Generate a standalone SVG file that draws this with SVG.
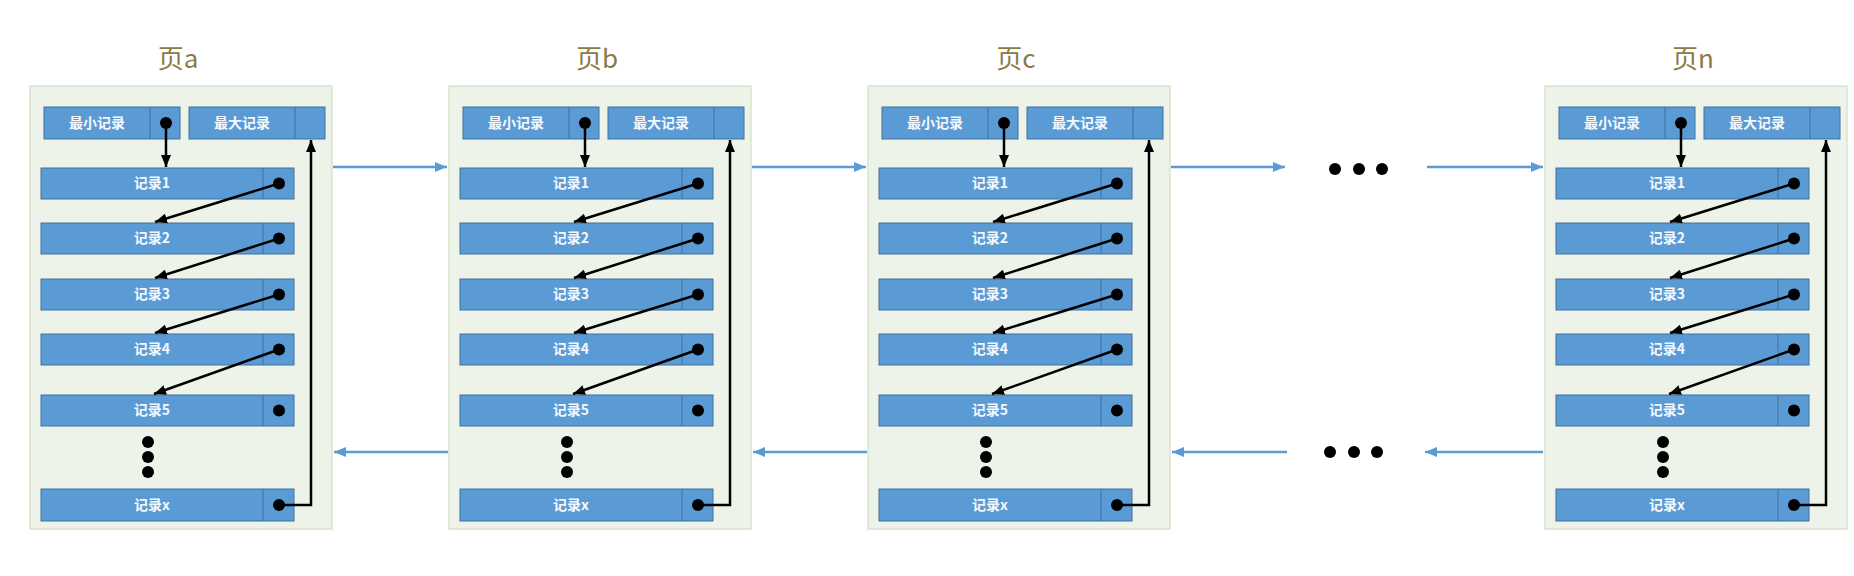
<svg xmlns="http://www.w3.org/2000/svg" width="1854" height="576" viewBox="0 0 1854 576">
<style>
.pg{fill:#eef3e9;stroke:#d8e5cc;stroke-width:1.5}
.bx{fill:#5b9bd5;stroke:#41719c;stroke-width:1}
.dv{stroke:#41719c;stroke-width:1}
.t{font-family:"Noto Sans CJK SC","Liberation Sans",sans-serif;font-size:14px;font-weight:700;fill:#f4f8fc;text-anchor:middle}
.ti{font-family:"Noto Sans CJK SC","Open Sans",sans-serif;font-size:26px;fill:#8a7a45;text-anchor:middle}
.dot{fill:#000000}
.k{stroke:#000000;stroke-width:2.5;fill:none;marker-end:url(#ak)}
.b{stroke:#5b9bd5;stroke-width:2.5;fill:none;marker-end:url(#ab)}
</style>
<defs>
<marker id="ak" markerUnits="userSpaceOnUse" markerWidth="12" markerHeight="10" refX="12" refY="5" orient="auto"><path d="M0,0 L12,5 L0,10 z" fill="#000000"/></marker>
<marker id="ab" markerUnits="userSpaceOnUse" markerWidth="12" markerHeight="10" refX="12" refY="5" orient="auto"><path d="M0,0 L12,5 L0,10 z" fill="#5b9bd5"/></marker>
</defs>
<rect width="1854" height="576" fill="#ffffff"/>

<g id="page-a">
<rect class="pg" x="30" y="86" width="302" height="443"/>
<text class="ti" x="178" y="68">页a</text>
<g id="a-min"><rect class="bx" x="44" y="107" width="136" height="32"/><line class="dv" x1="150" y1="107" x2="150" y2="139"/><text class="t" x="97" y="128">最小记录</text><circle class="dot" cx="166" cy="123" r="6"/></g>
<g id="a-max"><rect class="bx" x="189" y="107" width="136" height="32"/><line class="dv" x1="295" y1="107" x2="295" y2="139"/><text class="t" x="242" y="128">最大记录</text></g>
<g id="a-r1"><rect class="bx" x="41" y="168" width="253" height="31"/><line class="dv" x1="263" y1="168" x2="263" y2="199"/><text class="t" x="152" y="188">记录1</text><circle class="dot" cx="279" cy="183.5" r="6"/></g>
<g id="a-r2"><rect class="bx" x="41" y="223" width="253" height="31"/><line class="dv" x1="263" y1="223" x2="263" y2="254"/><text class="t" x="152" y="243">记录2</text><circle class="dot" cx="279" cy="238.5" r="6"/></g>
<g id="a-r3"><rect class="bx" x="41" y="279" width="253" height="31"/><line class="dv" x1="263" y1="279" x2="263" y2="310"/><text class="t" x="152" y="299">记录3</text><circle class="dot" cx="279" cy="294.5" r="6"/></g>
<g id="a-r4"><rect class="bx" x="41" y="334" width="253" height="31"/><line class="dv" x1="263" y1="334" x2="263" y2="365"/><text class="t" x="152" y="354">记录4</text><circle class="dot" cx="279" cy="349.5" r="6"/></g>
<g id="a-r5"><rect class="bx" x="41" y="395" width="253" height="31"/><line class="dv" x1="263" y1="395" x2="263" y2="426"/><text class="t" x="152" y="415">记录5</text><circle class="dot" cx="279" cy="410.5" r="6"/></g>
<g id="a-vd"><circle class="dot" cx="148" cy="442" r="6"/><circle class="dot" cx="148" cy="457" r="6"/><circle class="dot" cx="148" cy="472" r="6"/></g>
<g id="a-rx"><rect class="bx" x="41" y="489" width="253" height="32"/><line class="dv" x1="263" y1="489" x2="263" y2="521"/><text class="t" x="152" y="510">记录x</text><circle class="dot" cx="279" cy="505" r="6"/></g>
</g>

<g id="page-b">
<rect class="pg" x="449" y="86" width="302" height="443"/>
<text class="ti" x="597" y="68">页b</text>
<g id="b-min"><rect class="bx" x="463" y="107" width="136" height="32"/><line class="dv" x1="569" y1="107" x2="569" y2="139"/><text class="t" x="516" y="128">最小记录</text><circle class="dot" cx="585" cy="123" r="6"/></g>
<g id="b-max"><rect class="bx" x="608" y="107" width="136" height="32"/><line class="dv" x1="714" y1="107" x2="714" y2="139"/><text class="t" x="661" y="128">最大记录</text></g>
<g id="b-r1"><rect class="bx" x="460" y="168" width="253" height="31"/><line class="dv" x1="682" y1="168" x2="682" y2="199"/><text class="t" x="571" y="188">记录1</text><circle class="dot" cx="698" cy="183.5" r="6"/></g>
<g id="b-r2"><rect class="bx" x="460" y="223" width="253" height="31"/><line class="dv" x1="682" y1="223" x2="682" y2="254"/><text class="t" x="571" y="243">记录2</text><circle class="dot" cx="698" cy="238.5" r="6"/></g>
<g id="b-r3"><rect class="bx" x="460" y="279" width="253" height="31"/><line class="dv" x1="682" y1="279" x2="682" y2="310"/><text class="t" x="571" y="299">记录3</text><circle class="dot" cx="698" cy="294.5" r="6"/></g>
<g id="b-r4"><rect class="bx" x="460" y="334" width="253" height="31"/><line class="dv" x1="682" y1="334" x2="682" y2="365"/><text class="t" x="571" y="354">记录4</text><circle class="dot" cx="698" cy="349.5" r="6"/></g>
<g id="b-r5"><rect class="bx" x="460" y="395" width="253" height="31"/><line class="dv" x1="682" y1="395" x2="682" y2="426"/><text class="t" x="571" y="415">记录5</text><circle class="dot" cx="698" cy="410.5" r="6"/></g>
<g id="b-vd"><circle class="dot" cx="567" cy="442" r="6"/><circle class="dot" cx="567" cy="457" r="6"/><circle class="dot" cx="567" cy="472" r="6"/></g>
<g id="b-rx"><rect class="bx" x="460" y="489" width="253" height="32"/><line class="dv" x1="682" y1="489" x2="682" y2="521"/><text class="t" x="571" y="510">记录x</text><circle class="dot" cx="698" cy="505" r="6"/></g>
</g>

<g id="page-c">
<rect class="pg" x="868" y="86" width="302" height="443"/>
<text class="ti" x="1016" y="68">页c</text>
<g id="c-min"><rect class="bx" x="882" y="107" width="136" height="32"/><line class="dv" x1="988" y1="107" x2="988" y2="139"/><text class="t" x="935" y="128">最小记录</text><circle class="dot" cx="1004" cy="123" r="6"/></g>
<g id="c-max"><rect class="bx" x="1027" y="107" width="136" height="32"/><line class="dv" x1="1133" y1="107" x2="1133" y2="139"/><text class="t" x="1080" y="128">最大记录</text></g>
<g id="c-r1"><rect class="bx" x="879" y="168" width="253" height="31"/><line class="dv" x1="1101" y1="168" x2="1101" y2="199"/><text class="t" x="990" y="188">记录1</text><circle class="dot" cx="1117" cy="183.5" r="6"/></g>
<g id="c-r2"><rect class="bx" x="879" y="223" width="253" height="31"/><line class="dv" x1="1101" y1="223" x2="1101" y2="254"/><text class="t" x="990" y="243">记录2</text><circle class="dot" cx="1117" cy="238.5" r="6"/></g>
<g id="c-r3"><rect class="bx" x="879" y="279" width="253" height="31"/><line class="dv" x1="1101" y1="279" x2="1101" y2="310"/><text class="t" x="990" y="299">记录3</text><circle class="dot" cx="1117" cy="294.5" r="6"/></g>
<g id="c-r4"><rect class="bx" x="879" y="334" width="253" height="31"/><line class="dv" x1="1101" y1="334" x2="1101" y2="365"/><text class="t" x="990" y="354">记录4</text><circle class="dot" cx="1117" cy="349.5" r="6"/></g>
<g id="c-r5"><rect class="bx" x="879" y="395" width="253" height="31"/><line class="dv" x1="1101" y1="395" x2="1101" y2="426"/><text class="t" x="990" y="415">记录5</text><circle class="dot" cx="1117" cy="410.5" r="6"/></g>
<g id="c-vd"><circle class="dot" cx="986" cy="442" r="6"/><circle class="dot" cx="986" cy="457" r="6"/><circle class="dot" cx="986" cy="472" r="6"/></g>
<g id="c-rx"><rect class="bx" x="879" y="489" width="253" height="32"/><line class="dv" x1="1101" y1="489" x2="1101" y2="521"/><text class="t" x="990" y="510">记录x</text><circle class="dot" cx="1117" cy="505" r="6"/></g>
</g>

<g id="page-n">
<rect class="pg" x="1545" y="86" width="302" height="443"/>
<text class="ti" x="1693" y="68">页n</text>
<g id="n-min"><rect class="bx" x="1559" y="107" width="136" height="32"/><line class="dv" x1="1665" y1="107" x2="1665" y2="139"/><text class="t" x="1612" y="128">最小记录</text><circle class="dot" cx="1681" cy="123" r="6"/></g>
<g id="n-max"><rect class="bx" x="1704" y="107" width="136" height="32"/><line class="dv" x1="1810" y1="107" x2="1810" y2="139"/><text class="t" x="1757" y="128">最大记录</text></g>
<g id="n-r1"><rect class="bx" x="1556" y="168" width="253" height="31"/><line class="dv" x1="1778" y1="168" x2="1778" y2="199"/><text class="t" x="1667" y="188">记录1</text><circle class="dot" cx="1794" cy="183.5" r="6"/></g>
<g id="n-r2"><rect class="bx" x="1556" y="223" width="253" height="31"/><line class="dv" x1="1778" y1="223" x2="1778" y2="254"/><text class="t" x="1667" y="243">记录2</text><circle class="dot" cx="1794" cy="238.5" r="6"/></g>
<g id="n-r3"><rect class="bx" x="1556" y="279" width="253" height="31"/><line class="dv" x1="1778" y1="279" x2="1778" y2="310"/><text class="t" x="1667" y="299">记录3</text><circle class="dot" cx="1794" cy="294.5" r="6"/></g>
<g id="n-r4"><rect class="bx" x="1556" y="334" width="253" height="31"/><line class="dv" x1="1778" y1="334" x2="1778" y2="365"/><text class="t" x="1667" y="354">记录4</text><circle class="dot" cx="1794" cy="349.5" r="6"/></g>
<g id="n-r5"><rect class="bx" x="1556" y="395" width="253" height="31"/><line class="dv" x1="1778" y1="395" x2="1778" y2="426"/><text class="t" x="1667" y="415">记录5</text><circle class="dot" cx="1794" cy="410.5" r="6"/></g>
<g id="n-vd"><circle class="dot" cx="1663" cy="442" r="6"/><circle class="dot" cx="1663" cy="457" r="6"/><circle class="dot" cx="1663" cy="472" r="6"/></g>
<g id="n-rx"><rect class="bx" x="1556" y="489" width="253" height="32"/><line class="dv" x1="1778" y1="489" x2="1778" y2="521"/><text class="t" x="1667" y="510">记录x</text><circle class="dot" cx="1794" cy="505" r="6"/></g>
</g>

<g id="ellipsis">
<circle class="dot" cx="1335" cy="169" r="6"/><circle class="dot" cx="1359" cy="169" r="6"/><circle class="dot" cx="1382" cy="169" r="6"/>
<circle class="dot" cx="1330" cy="452" r="6"/><circle class="dot" cx="1354" cy="452" r="6"/><circle class="dot" cx="1377" cy="452" r="6"/>
</g>

<g id="connectors">
<path class="k" d="M166,123 V167"/>
<path class="k" d="M279,183.5 L155,222"/>
<path class="k" d="M279,238.5 L155,278"/>
<path class="k" d="M279,294.5 L155,333"/>
<path class="k" d="M279,349.5 L154,394"/>
<path class="k" d="M279,505 H311 V140"/>

<path class="k" d="M585,123 V167"/>
<path class="k" d="M698,183.5 L574,222"/>
<path class="k" d="M698,238.5 L574,278"/>
<path class="k" d="M698,294.5 L574,333"/>
<path class="k" d="M698,349.5 L573,394"/>
<path class="k" d="M698,505 H730 V140"/>

<path class="k" d="M1004,123 V167"/>
<path class="k" d="M1117,183.5 L993,222"/>
<path class="k" d="M1117,238.5 L993,278"/>
<path class="k" d="M1117,294.5 L993,333"/>
<path class="k" d="M1117,349.5 L992,394"/>
<path class="k" d="M1117,505 H1149 V140"/>

<path class="k" d="M1681,123 V167"/>
<path class="k" d="M1794,183.5 L1670,222"/>
<path class="k" d="M1794,238.5 L1670,278"/>
<path class="k" d="M1794,294.5 L1670,333"/>
<path class="k" d="M1794,349.5 L1669,394"/>
<path class="k" d="M1794,505 H1826 V140"/>

<path class="b" d="M333,167 H447"/>
<path class="b" d="M752,167 H866"/>
<path class="b" d="M1171,167 H1285"/>
<path class="b" d="M1427,167 H1543"/>
<path class="b" d="M448,452 H334"/>
<path class="b" d="M867,452 H753"/>
<path class="b" d="M1287,452 H1172"/>
<path class="b" d="M1543,452 H1425"/>
</g>
</svg>
